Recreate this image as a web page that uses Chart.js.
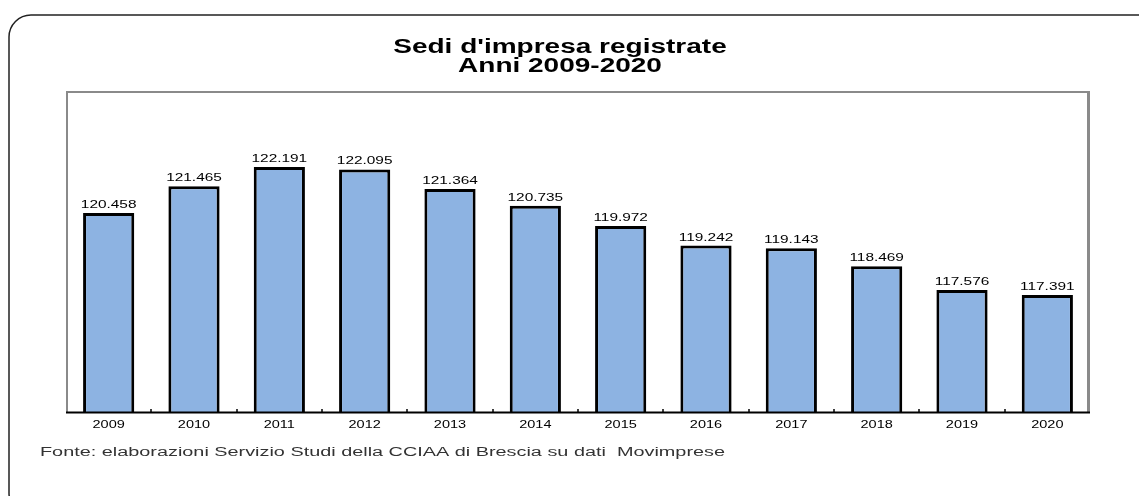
<!DOCTYPE html>
<html>
<head>
  <meta charset="UTF-8">
  <title>Sedi d'impresa registrate</title>
  <script src="https://cdn.jsdelivr.net/npm/chart.js"></script>
  <style>
    html, body { margin: 0; padding: 0; background: #fff; }
    canvas { display: block; }
  </style>
</head>
<body>
  <canvas id="chart" width="1139" height="496"></canvas>

  <script>
    const years = ['2009', '2010', '2011', '2012', '2013', '2014', '2015', '2016', '2017', '2018', '2019', '2020'];
    const sedi = [120458, 121465, 122191, 122095, 121364, 120735, 119972, 119242, 119143, 118469, 117576, 117391];
    const titleLines = ["Sedi d'impresa registrate", 'Anni 2009-2020'];
    const fonte = 'Fonte: elaborazioni Servizio Studi della CCIAA di Brescia su dati  Movimprese';

    const FONT = '"Liberation Sans", Arial, sans-serif';
    const SX = 1.4; // the original text looks stretched horizontally

    function fmt(v) {
      return (v / 1000).toFixed(3); // 120458 -> "120.458"
    }

    function wideText(ctx, text, x, y, align, sx) {
      ctx.save();
      ctx.translate(x, y);
      ctx.scale(sx, 1);
      ctx.textAlign = align;
      ctx.textBaseline = 'alphabetic';
      ctx.fillText(text, 0, 0);
      ctx.restore();
    }

    // frame, axis, ticks and all the texts
    const decor = {
      id: 'decor',
      beforeDatasetsDraw(chart) {
        const ctx = chart.ctx;
        const a = chart.chartArea;
        ctx.save();
        // outer rounded box (runs off the right and bottom edge)
        ctx.strokeStyle = '#222';
        ctx.lineWidth = 1.5;
        ctx.beginPath();
        ctx.roundRect(9, 15, 1150, 500, 22);
        ctx.stroke();
        // grey plot frame
        ctx.strokeStyle = '#8a8a8a';
        ctx.lineWidth = 2;
        ctx.beginPath();
        ctx.moveTo(a.left + 1, a.bottom);
        ctx.lineTo(a.left + 1, a.top);
        ctx.lineTo(a.right - 1, a.top);
        ctx.stroke();
        ctx.lineWidth = 3;
        ctx.beginPath();
        ctx.moveTo(a.right - 1.5, a.top - 1);
        ctx.lineTo(a.right - 1.5, a.bottom);
        ctx.stroke();
        ctx.restore();
      },
      afterDatasetsDraw(chart) {
        const ctx = chart.ctx;
        const a = chart.chartArea;
        const x = chart.scales.x;
        const meta = chart.getDatasetMeta(0);
        ctx.save();
        // x axis line
        ctx.strokeStyle = '#000';
        ctx.lineWidth = 2;
        ctx.beginPath();
        ctx.moveTo(a.left, a.bottom + 0.5);
        ctx.lineTo(a.right, a.bottom + 0.5);
        ctx.stroke();
        // small tick marks between categories
        ctx.lineWidth = 1.5;
        for (let i = 1; i < years.length; i++) {
          const px = Math.round((x.getPixelForValue(i - 1) + x.getPixelForValue(i)) / 2);
          ctx.beginPath();
          ctx.moveTo(px, a.bottom);
          ctx.lineTo(px, a.bottom - 3);
          ctx.stroke();
        }
        // category labels
        ctx.fillStyle = '#000';
        ctx.font = '10px ' + FONT;
        years.forEach((y, i) => wideText(ctx, y, x.getPixelForValue(i), a.bottom + 16, 'center', 1.45));
        // value labels
        ctx.font = '11px ' + FONT;
        meta.data.forEach((bar, i) => wideText(ctx, fmt(sedi[i]), bar.x, bar.y - 5, 'center', SX));
        // title
        ctx.font = 'bold 20px ' + FONT;
        wideText(ctx, titleLines[0], 560, 53, 'center', SX);
        wideText(ctx, titleLines[1], 560, 72, 'center', SX);
        // source note
        ctx.font = '12px ' + FONT;
        ctx.fillStyle = '#333';
        const w = ctx.measureText(fonte).width;
        wideText(ctx, fonte, 40, 456, 'left', 685 / w);
        ctx.restore();
      }
    };

    const ctx = document.getElementById('chart').getContext('2d');
    new Chart(ctx, {
      type: 'bar',
      data: {
        labels: years,
        datasets: [{
          data: sedi.map(v => v / 1000),
          backgroundColor: '#8db3e2',
          borderColor: '#000',
          borderWidth: 3,
          borderSkipped: false,
          categoryPercentage: 1,
          barPercentage: 0.6
        }]
      },
      options: {
        responsive: false,
        animation: false,
        layout: { padding: { left: 66, right: 49, top: 92, bottom: 84 } },
        plugins: {
          legend: { display: false },
          tooltip: { enabled: false },
          title: { display: false }
        },
        scales: {
          x: { display: false },
          y: { display: false, min: 113, max: 125 }
        }
      },
      plugins: [decor]
    });
  </script>
</body>
</html>
